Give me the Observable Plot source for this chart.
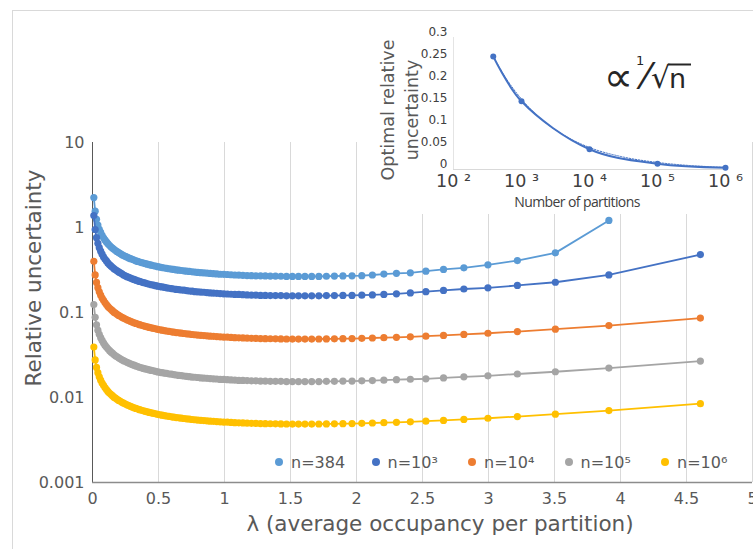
<!DOCTYPE html>
<html><head><meta charset="utf-8">
<script src="https://cdn.jsdelivr.net/npm/d3@7"></script>
<script src="https://cdn.jsdelivr.net/npm/@observablehq/plot@0.6"></script>
<style>
body{margin:0;background:#fff;font-family:"DejaVu Sans",sans-serif;}
#wrap{position:relative;width:753px;height:549px;overflow:hidden;background:#fff;}
#border{position:absolute;left:12px;top:10px;width:800px;height:600px;border:1px solid #d9d9d9;}
#main{position:absolute;left:0;top:0;}
#inset{position:absolute;left:374px;top:18px;background:#fff;}
.abs{position:absolute;white-space:nowrap;color:#595959;}
#xtitle{left:440px;top:523px;transform:translate(-50%,-50%);font-size:21.5px;}
#ytitle{left:33px;top:278px;transform:translate(-50%,-50%) rotate(-90deg);font-size:21.5px;}
#ititle{left:400px;top:110px;transform:translate(-50%,-50%) rotate(-90deg);font-size:17.5px;line-height:24px;text-align:center;}
#ixtitle{left:577px;top:201px;transform:translate(-50%,-50%);font-family:"Open Sans";font-size:14px;letter-spacing:-0.6px;color:#404040;}
#legend{position:absolute;left:275px;top:452px;display:flex;font-size:16px;color:#595959;}
.item{width:96.5px;display:flex;align-items:center;height:20px;}
.sw{width:8px;height:8px;border-radius:50%;margin-right:8px;}
#formula{position:absolute;left:595px;top:36px;overflow:visible;}
</style></head><body>
<div id="wrap">
<div id="border"></div>
<div id="main"></div>
<div id="inset"></div>
<div id="xtitle" class="abs">λ (average occupancy per partition)</div>
<div id="ytitle" class="abs">Relative uncertainty</div>
<div id="ititle" class="abs">Optimal relative<br>uncertainty</div>
<div id="ixtitle" class="abs">Number of partitions</div>
<div id="legend"></div>
<svg id="formula" width="120" height="76">
  <text fill="#262626" font-family="DejaVu Sans"><tspan x="9" y="55" font-size="41">∝</tspan><tspan x="41" y="29" font-size="13">1</tspan><tspan x="48" y="52" font-size="36">⁄</tspan><tspan x="56" y="52" font-size="30">√</tspan><tspan x="74" y="52" font-size="27">n</tspan></text>
  <line x1="73" x2="96" y1="28.5" y2="28.5" stroke="#262626" stroke-width="2"/>
</svg>
</div>
<script>
// ---- main chart data ----
const lambda = [0.0101,0.0202,0.0305,0.0408,0.0513,0.0619,0.0726,0.0834,0.0943,0.1054,
0.1165,0.1278,0.1393,0.1508,0.1625,0.1744,0.1863,0.1985,0.2107,0.2231,
0.2357,0.2485,0.2614,0.2744,0.2877,0.3011,0.3147,0.3285,0.3425,0.3567,
0.3711,0.3857,0.4005,0.4155,0.4308,0.4463,0.4620,0.4780,0.4943,0.5108,
0.5276,0.5447,0.5621,0.5798,0.5978,0.6162,0.6349,0.6539,0.6733,0.6931,
0.7133,0.7340,0.7550,0.7765,0.7985,0.8210,0.8440,0.8675,0.8916,0.9163,
0.9416,0.9676,0.9943,1.0217,1.0498,1.0788,1.1087,1.1394,1.1712,1.2040,
1.2379,1.2730,1.3093,1.3471,1.3863,1.4271,1.4697,1.5141,1.5606,1.6094,
1.6607,1.7148,1.7720,1.8326,1.8971,1.9661,2.0402,2.1203,2.2073,2.3026,
2.4079,2.5257,2.6593,2.8134,2.9957,3.2189,3.5066,3.9120,4.6052];

const u384 = [2.25,1.556,1.247,1.070,0.953,0.874,0.809,0.757,0.714,0.677,
0.646,0.618,0.594,0.573,0.553,0.536,0.520,0.505,0.492,0.479,
0.468,0.458,0.448,0.438,0.430,0.422,0.414,0.406,0.399,0.393,
0.387,0.381,0.375,0.370,0.365,0.360,0.355,0.351,0.346,0.342,
0.338,0.334,0.331,0.327,0.324,0.321,0.317,0.315,0.312,0.309,
0.306,0.304,0.301,0.299,0.296,0.294,0.292,0.290,0.288,0.286,
0.284,0.282,0.281,0.280,0.278,0.276,0.275,0.274,0.272,0.271,
0.270,0.270,0.269,0.268,0.268,0.267,0.266,0.266,0.266,0.266,
0.266,0.266,0.267,0.268,0.269,0.270,0.271,0.276,0.283,0.289,
0.293,0.306,0.321,0.335,0.364,0.408,0.503,1.21];

const u1e3 = [1.38,0.947,0.759,0.651,0.579,0.526,0.485,0.451,0.425,0.404,
0.383,0.367,0.353,0.340,0.328,0.318,0.309,0.300,0.292,0.285,
0.276,0.270,0.264,0.259,0.254,0.249,0.245,0.240,0.236,0.232,
0.228,0.225,0.222,0.218,0.215,0.212,0.210,0.207,0.204,0.202,
0.200,0.198,0.195,0.193,0.191,0.189,0.187,0.186,0.184,0.183,
0.181,0.179,0.178,0.176,0.175,0.174,0.173,0.171,0.170,0.169,
0.168,0.167,0.166,0.165,0.164,0.163,0.163,0.162,0.161,0.160,
0.160,0.159,0.159,0.158,0.158,0.158,0.157,0.157,0.157,0.157,
0.157,0.157,0.158,0.158,0.159,0.159,0.160,0.161,0.163,0.166,
0.170,0.176,0.182,0.189,0.195,0.208,0.227,0.277,0.480];

const u1e4 = [0.400,0.277,0.226,0.196,0.175,0.160,0.148,0.139,0.131,0.124,
0.118,0.113,0.109,0.105,0.101,0.0981,0.0952,0.0925,0.0901,0.0878,
0.0857,0.0838,0.0820,0.0803,0.0787,0.0772,0.0758,0.0744,0.0731,0.0719,
0.0708,0.0697,0.0687,0.0677,0.0668,0.0659,0.0650,0.0642,0.0634,0.0627,
0.0619,0.0612,0.0606,0.0599,0.0593,0.0587,0.0581,0.0576,0.0571,0.0566,
0.0561,0.0556,0.0551,0.0547,0.0543,0.0539,0.0535,0.0531,0.0527,0.0524,
0.0521,0.0517,0.0514,0.0512,0.0509,0.0506,0.0504,0.0502,0.0499,0.0497,
0.0495,0.0494,0.0492,0.0491,0.0490,0.0489,0.0488,0.0487,0.0487,0.0487,
0.0487,0.0488,0.0489,0.0490,0.0492,0.0494,0.0497,0.0501,0.0505,0.0511,
0.0518,0.0526,0.0537,0.0552,0.0570,0.0597,0.0636,0.0701,0.0860];

const u1e5 = [0.124,0.0877,0.0716,0.0620,0.0554,0.0506,0.0469,0.0438,0.0413,0.0392,
0.0374,0.0358,0.0344,0.0332,0.0320,0.0310,0.0301,0.0293,0.0285,0.0278,
0.0271,0.0265,0.0259,0.0254,0.0249,0.0244,0.0240,0.0235,0.0231,0.0227,
0.0224,0.0220,0.0217,0.0214,0.0211,0.0208,0.0206,0.0203,0.0200,0.0198,
0.0196,0.0194,0.0192,0.0189,0.0188,0.0186,0.0184,0.0182,0.0181,0.0179,
0.0177,0.0176,0.0174,0.0173,0.0172,0.0170,0.0169,0.0168,0.0167,0.0166,
0.0165,0.0163,0.0163,0.0162,0.0161,0.0160,0.0159,0.0159,0.0158,0.0157,
0.0157,0.0156,0.0156,0.0155,0.0155,0.0155,0.0154,0.0154,0.0154,0.0154,
0.0154,0.0154,0.0155,0.0155,0.0156,0.0156,0.0157,0.0158,0.0160,0.0162,
0.0164,0.0166,0.0170,0.0175,0.0180,0.0189,0.0201,0.0222,0.0268];

const u1e6 = [0.0392,0.0277,0.0226,0.0196,0.0175,0.0160,0.0148,0.0139,0.0131,0.0124,
0.0118,0.0113,0.0109,0.0105,0.0101,0.00981,0.00952,0.00925,0.00901,0.00878,
0.00857,0.00838,0.00820,0.00803,0.00787,0.00772,0.00758,0.00744,0.00731,0.00719,
0.00708,0.00697,0.00687,0.00677,0.00668,0.00659,0.00650,0.00642,0.00634,0.00627,
0.00619,0.00612,0.00606,0.00599,0.00593,0.00587,0.00581,0.00576,0.00571,0.00566,
0.00561,0.00556,0.00551,0.00547,0.00543,0.00539,0.00535,0.00531,0.00527,0.00524,
0.00521,0.00517,0.00514,0.00512,0.00509,0.00506,0.00504,0.00502,0.00499,0.00497,
0.00495,0.00494,0.00492,0.00491,0.00490,0.00489,0.00488,0.00487,0.00487,0.00487,
0.00487,0.00488,0.00489,0.00490,0.00492,0.00494,0.00497,0.00501,0.00505,0.00511,
0.00518,0.00526,0.00537,0.00552,0.00570,0.00597,0.00636,0.00701,0.00847];

const seriesNames = ["n=384","n=10³","n=10⁴","n=10⁵","n=10⁶"];
const seriesValues = [u384,u1e3,u1e4,u1e5,u1e6];
const seriesColors = ["#5B9BD5","#4472C4","#ED7D31","#A5A5A5","#FFC000"];

const xTicks = [0,0.5,1,1.5,2,2.5,3,3.5,4,4.5,5];
const xTickLabels = ["0","0.5","1","1.5","2","2.5","3","3.5","4","4.5","5"];
const yTicks = [0.001,0.01,0.1,1,10];
const yTickLabels = ["0.001","0.01","0.1","1","10"];

// ---- inset data ----
const insetN = [384,1000,10000,100000,1000000];
const insetU = [0.257,0.155,0.046,0.013,0.004];
const trendN = [384,600,1000,2000,4000,10000,30000,100000,300000,1000000];
const trendU = [0.257,0.206,0.16,0.113,0.08,0.05,0.029,0.016,0.009,0.005];
const insetXTicks = [100,1000,10000,100000,1000000];
const insetXTickLabels = ["10 ²","10 ³","10 ⁴","10 ⁵","10 ⁶"];
const insetYTicks = [0,0.05,0.1,0.15,0.2,0.25,0.3];
const insetYTickLabels = ["0","0.05","0.1","0.15","0.2","0.25","0.3"];

// build rows
const seriesMarks = [];
seriesNames.forEach((name, si) => {
  const rows = seriesValues[si].map((v, i) => ({lam: lambda[i], v, s: name}));
  seriesMarks.push(Plot.line(rows, {x: "lam", y: "v", stroke: seriesColors[si], strokeWidth: 1.8}));
  seriesMarks.push(Plot.dot(rows, {x: "lam", y: "v", r: 3.6, fill: seriesColors[si], stroke: "none"}));
});

const main = Plot.plot({
  width: 753, height: 549,
  marginLeft: 92, marginRight: 1, marginTop: 142, marginBottom: 67,
  style: {fontFamily: "DejaVu Sans", fontSize: "16px", color: "#595959", background: "transparent"},
  x: {domain: [0, 5]},
  y: {type: "log", domain: [0.001, 10]},
  marks: [
    Plot.gridX(xTicks, {stroke: "#d9d9d9", strokeOpacity: 1, strokeWidth: 1}),
    Plot.axisX({ticks: xTicks, tickSize: 0, tickPadding: 10, tickFormat: (d) => xTickLabels[xTicks.indexOf(d)], label: null, fontSize: 16}),
    Plot.axisY({ticks: yTicks, tickSize: 0, tickPadding: 8, tickFormat: (d) => yTickLabels[yTicks.indexOf(d)], label: null, fontSize: 16}),
    Plot.ruleX([0], {stroke: "#595959", strokeWidth: 1}),
    Plot.ruleY([0.001], {stroke: "#8c8c8c", strokeWidth: 1.3}),
    ...seriesMarks
  ]
});
document.getElementById("main").appendChild(main);

// legend
const leg = document.getElementById("legend");
seriesNames.forEach((name, i) => {
  const it = document.createElement("div");
  it.className = "item";
  it.innerHTML = `<span class="sw" style="background:${seriesColors[i]}"></span><span>${name}</span>`;
  leg.appendChild(it);
});

// inset
const insetRows = insetN.map((n, i) => ({n, u: insetU[i]}));
const trendRows = trendN.map((n, i) => ({n, u: trendU[i]}));
const inset = Plot.plot({
  width: 372, height: 196,
  marginLeft: 79, marginRight: 21, marginTop: 19, marginBottom: 45,
  style: {fontFamily: "DejaVu Sans", color: "#404040", background: "#fff"},
  x: {type: "log", domain: [100, 1000000]},
  y: {domain: [0, 0.3]},
  marks: [
    Plot.axisX({ticks: insetXTicks, tickSize: 0, tickPadding: 5, tickFormat: (d) => insetXTickLabels[insetXTicks.indexOf(d)], label: null, fontSize: 17.5}),
    Plot.axisY({ticks: insetYTicks, tickSize: 0, tickPadding: 6, tickFormat: (d) => insetYTickLabels[insetYTicks.indexOf(d)], label: null, fontSize: 12, dy: -5}),
    Plot.ruleY([0], {stroke: "#d9d9d9"}),
    Plot.ruleX([100], {stroke: "#e4e4e4"}),
    Plot.line(trendRows, {x: "n", y: "u", stroke: "#4472C4", strokeWidth: 1, strokeDasharray: "1.5,1.5", curve: "monotone-x"}),
    Plot.line(insetRows, {x: "n", y: "u", stroke: "#4472C4", strokeWidth: 2, curve: "catmull-rom"}),
    Plot.dot(insetRows, {x: "n", y: "u", r: 3, fill: "#4472C4", stroke: "none"})
  ]
});
document.getElementById("inset").appendChild(inset);
</script>
</body></html>
